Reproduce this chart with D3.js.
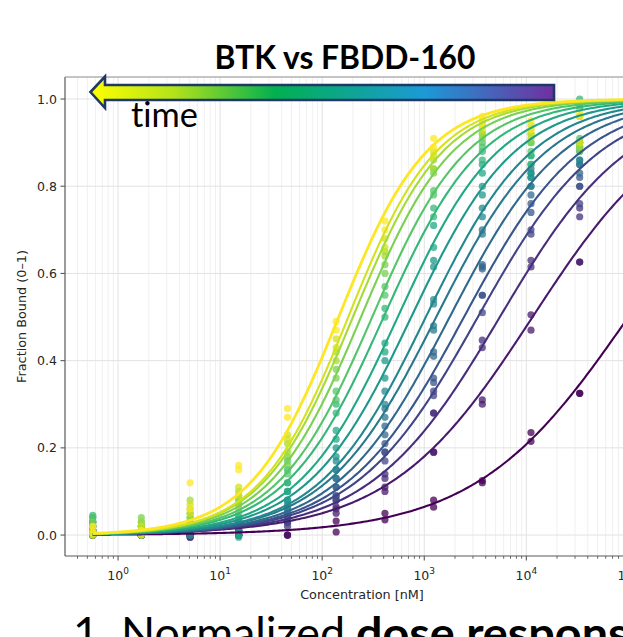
<!DOCTYPE html>
<html>
<head>
<meta charset="utf-8">
<script src="https://cdn.jsdelivr.net/npm/d3@7"></script>
<style>
  html, body { margin: 0; padding: 0; background: #fff; }
  svg { display: block; }
  text { font-variant-ligatures: none; font-feature-settings: "liga" 0, "clig" 0; }
</style>
</head>
<body>
<svg id="chart" width="623" height="637"></svg>
<script>
// ---------------- data ----------------
const concentrations = [0.565, 1.69, 5.08, 15.2, 45.7, 137, 412, 1235, 3704, 11111, 33333]; // nM
// fitted curves, latest time point (yellow) first, earliest (purple) last
const ec50 = [145, 180, 200, 240, 309, 400, 550, 745, 1035, 1310, 1775, 2450, 3350, 5500, 11500, 100000];
const hillSlope = [1.0, 1.0, 0.98, 0.96, 0.93, 0.9, 0.88, 0.85, 0.83, 0.8, 0.78, 0.75, 0.72, 0.68, 0.62, 0.58];
const replicateA = [
  [0.02, 0.0, 0.12, 0.16, 0.29, 0.49, 0.72, 0.91, 0.96, 0.95, 0.97],
  [0.01, 0.02, 0.07, 0.11, 0.23, 0.45, 0.68, 0.88, 0.95, 0.94, 0.96],
  [0.02, 0.03, 0.08, 0.10, 0.21, 0.42, 0.65, 0.86, 0.94, 0.93, 0.90],
  [0.03, 0.04, 0.06, 0.09, 0.18, 0.38, 0.62, 0.84, 0.92, 0.92, 0.90],
  [0.04, 0.03, 0.05, 0.08, 0.17, 0.33, 0.57, 0.79, 0.90, 0.90, 0.91],
  [0.045, 0.02, 0.04, 0.07, 0.15, 0.30, 0.52, 0.75, 0.88, 0.87, 0.99],
  [0.04, 0.02, 0.03, 0.0, 0.12, 0.24, 0.44, 0.71, 0.85, 0.87, 0.98],
  [0.03, 0.01, 0.02, 0.04, 0.10, 0.20, 0.40, 0.63, 0.80, 0.83, 0.90],
  [0.03, 0.01, 0.02, 0.03, 0.08, 0.17, 0.33, 0.54, 0.75, 0.83, 0.88],
  [0.02, 0.01, 0.02, 0.03, 0.07, 0.15, 0.29, 0.48, 0.70, 0.84, 0.86],
  [0.02, 0.01, 0.01, 0.02, 0.06, 0.13, 0.25, 0.42, 0.62, 0.80, 0.85],
  [0.01, 0.01, 0.01, 0.02, 0.05, 0.11, 0.21, 0.36, 0.615, 0.76, 0.82],
  [0.01, 0.0, 0.01, 0.01, 0.04, 0.09, 0.19, 0.33, 0.55, 0.70, 0.80],
  [0.01, 0.0, 0.0, 0.01, 0.03, 0.08, 0.14, 0.28, 0.447, 0.63, 0.73],
  [0.0, 0.0, 0.0, 0.0, 0.03, 0.065, 0.11, 0.19, 0.31, 0.505, 0.626],
  [0.0, 0.0, 0.0, 0.0, 0.0, 0.032, 0.05, 0.08, 0.12, 0.235, 0.325]
];
const replicateB = [
  [0.005, 0.01, 0.06, 0.15, 0.27, 0.47, 0.70, 0.89, 0.94, 0.93, 0.96],
  [0.0, 0.005, 0.05, 0.09, 0.22, 0.43, 0.66, 0.87, 0.93, 0.92, 0.90],
  [0.0, 0.01, 0.04, 0.07, 0.19, 0.40, 0.64, 0.84, 0.92, 0.91, 0.89],
  [0.01, 0.02, 0.03, 0.06, 0.16, 0.36, 0.60, 0.83, 0.91, 0.90, 0.88],
  [0.02, 0.01, 0.03, 0.05, 0.14, 0.31, 0.55, 0.78, 0.89, 0.88, 0.89],
  [0.03, 0.0, 0.02, 0.04, 0.12, 0.28, 0.50, 0.73, 0.86, 0.85, 1.0],
  [0.02, 0.01, 0.01, -0.005, 0.10, 0.22, 0.42, 0.66, 0.83, 0.85, 0.96],
  [0.01, 0.0, 0.01, 0.02, 0.08, 0.18, 0.36, 0.615, 0.78, 0.82, 0.89],
  [0.01, 0.0, 0.0, 0.01, 0.06, 0.15, 0.30, 0.53, 0.73, 0.80, 0.86],
  [0.0, 0.0, 0.0, 0.01, 0.05, 0.13, 0.27, 0.47, 0.69, 0.82, 0.85],
  [0.0, 0.0, 0.0, 0.01, 0.04, 0.11, 0.23, 0.41, 0.61, 0.78, 0.83],
  [0.0, 0.0, 0.0, 0.01, 0.03, 0.09, 0.19, 0.35, 0.55, 0.74, 0.80],
  [0.0, 0.0, 0.0, 0.0, 0.03, 0.08, 0.17, 0.32, 0.51, 0.69, 0.76],
  [0.0, 0.0, -0.005, 0.0, 0.02, 0.06, 0.13, 0.28, 0.43, 0.615, 0.75],
  [0.0, 0.0, -0.005, 0.0, 0.0, 0.05, 0.10, 0.19, 0.30, 0.47, 0.626],
  [0.0, 0.0, 0.0, 0.0, 0.0, 0.007, 0.035, 0.064, 0.125, 0.215, 0.325]
];
const yTicks = [0.0, 0.2, 0.4, 0.6, 0.8, 1.0];
const xTickExponents = [0, 1, 2, 3, 4, 5];
const titleText = "BTK vs FBDD-160";
const arrowLabel = "time";
const xLabel = "Concentration [nM]";
const yLabel = "Fraction Bound (0\u20131)";
const captionNormal = "1. Normalized";
const captionBold = "dose responses";

// ---------------- layout ----------------
const svg = d3.select("#chart");
const plot = { left: 65, top: 77, bottom: 556, right: 659 };
const x = d3.scaleLog().domain([Math.pow(10, -0.52), Math.pow(10, 5.3)]).range([plot.left, plot.right]);
const y = d3.scaleLinear().domain([-0.048, 1.0505]).range([plot.bottom, plot.top]);
const nSeries = ec50.length;
const color = i => d3.interpolateViridis(1 - i / (nSeries - 1));
const font = "'DejaVu Sans', sans-serif";
const titleFont = "Lato, 'Open Sans', sans-serif";

svg.append("rect").attr("width", 623).attr("height", 637).attr("fill", "#fff");

svg.append("defs").append("clipPath").attr("id", "plotclip")
  .append("rect").attr("x", plot.left).attr("y", plot.top)
  .attr("width", plot.right - plot.left).attr("height", plot.bottom - plot.top);

// grid
const grid = svg.append("g");
const minorTicks = [];
for (let e = -1; e <= 5; e++) for (let m = 2; m <= 9; m++) {
  const v = m * Math.pow(10, e);
  if (v > x.domain()[0] && v < x.domain()[1]) minorTicks.push(v);
}
grid.selectAll("line.minor").data(minorTicks).join("line")
  .attr("x1", d => x(d)).attr("x2", d => x(d))
  .attr("y1", plot.top).attr("y2", plot.bottom)
  .attr("stroke", "#ececec").attr("stroke-width", 0.8);
grid.selectAll("line.major").data(xTickExponents.map(e => Math.pow(10, e))).join("line")
  .attr("x1", d => x(d)).attr("x2", d => x(d))
  .attr("y1", plot.top).attr("y2", plot.bottom)
  .attr("stroke", "#e2e2e2").attr("stroke-width", 1);
grid.selectAll("line.h").data(yTicks).join("line")
  .attr("x1", plot.left).attr("x2", plot.right)
  .attr("y1", d => y(d)).attr("y2", d => y(d))
  .attr("stroke", "#e2e2e2").attr("stroke-width", 1);

// curves and points
const body = svg.append("g").attr("clip-path", "url(#plotclip)");
const samples = d3.range(0, 301).map(k => Math.pow(10, Math.log10(concentrations[0]) + k * (5.4 - Math.log10(concentrations[0])) / 300));
const line = d3.line().x(d => x(d[0])).y(d => y(d[1]));
const order = d3.range(nSeries).reverse(); // purple first, yellow on top
order.forEach(i => {
  const pts = [];
  concentrations.forEach((c, j) => {
    pts.push([c, replicateA[i][j]]);
    pts.push([c, replicateB[i][j]]);
  });
  body.append("g").selectAll("circle").data(pts).join("circle")
    .attr("cx", d => x(d[0])).attr("cy", d => y(d[1])).attr("r", 3.6)
    .attr("fill", color(i)).attr("fill-opacity", 0.75);
});
order.forEach(i => {
  const fit = samples.map(c => [c, 1 / (1 + Math.pow(ec50[i] / c, hillSlope[i]))]);
  body.append("path").datum(fit).attr("d", line)
    .attr("fill", "none").attr("stroke", color(i))
    .attr("stroke-width", i === 0 ? 2.8 : 2.1);
});

// spines
const spine = "#595959";
svg.append("line").attr("x1", plot.left).attr("x2", plot.left).attr("y1", plot.top).attr("y2", plot.bottom).attr("stroke", spine).attr("stroke-width", 1.2);
svg.append("line").attr("x1", plot.left).attr("x2", plot.right).attr("y1", plot.bottom).attr("y2", plot.bottom).attr("stroke", spine).attr("stroke-width", 1.2);
svg.append("line").attr("x1", plot.left).attr("x2", plot.right).attr("y1", plot.top).attr("y2", plot.top).attr("stroke", "#8a8a8a").attr("stroke-width", 1);

// y axis ticks
const yAxisG = svg.append("g");
yAxisG.selectAll("line").data(yTicks).join("line")
  .attr("x1", plot.left - 4.5).attr("x2", plot.left).attr("y1", d => y(d)).attr("y2", d => y(d))
  .attr("stroke", spine).attr("stroke-width", 1.1);
yAxisG.selectAll("text").data(yTicks).join("text")
  .attr("x", plot.left - 8).attr("y", d => y(d)).attr("dy", "0.36em")
  .attr("text-anchor", "end").attr("font-family", font).attr("font-size", 12.5).attr("fill", "#262626")
  .text(d => d.toFixed(1));

// x axis ticks
const xAxisG = svg.append("g");
xAxisG.selectAll("line.mi").data(minorTicks).join("line")
  .attr("x1", d => x(d)).attr("x2", d => x(d)).attr("y1", plot.bottom).attr("y2", plot.bottom + 2.8)
  .attr("stroke", spine).attr("stroke-width", 0.9);
xAxisG.selectAll("line.ma").data(xTickExponents).join("line")
  .attr("x1", d => x(Math.pow(10, d))).attr("x2", d => x(Math.pow(10, d)))
  .attr("y1", plot.bottom).attr("y2", plot.bottom + 4.5)
  .attr("stroke", spine).attr("stroke-width", 1.1);
const xl = xAxisG.selectAll("text").data(xTickExponents).join("text")
  .attr("x", d => x(Math.pow(10, d))).attr("y", 580)
  .attr("text-anchor", "middle").attr("font-family", font).attr("font-size", 12.5).attr("fill", "#262626");
xl.append("tspan").text("10");
xl.append("tspan").attr("dy", -6).attr("font-size", 9).text(d => d);

// axis labels
svg.append("text").attr("x", (plot.left + plot.right) / 2).attr("y", 599)
  .attr("text-anchor", "middle").attr("font-family", font).attr("font-size", 12.8).attr("fill", "#262626")
  .text(xLabel);
svg.append("text").attr("transform", `translate(26,${(plot.top + plot.bottom) / 2}) rotate(-90)`)
  .attr("text-anchor", "middle").attr("font-family", font).attr("font-size", 12.8).attr("fill", "#262626")
  .text(yLabel);

// title
svg.append("text").attr("x", 345).attr("y", 69).attr("text-anchor", "middle")
  .attr("font-family", titleFont).attr("font-weight", "bold").attr("font-size", 32)
  .attr("textLength", 261).attr("lengthAdjust", "spacingAndGlyphs").attr("fill", "#000")
  .text(titleText);

// time arrow
const grad = svg.select("defs").append("linearGradient").attr("id", "timegrad")
  .attr("gradientUnits", "userSpaceOnUse").attr("x1", 90).attr("x2", 554).attr("y1", 0).attr("y2", 0);
[["0%", "#ffff00"], ["18%", "#b4e31a"], ["40%", "#00b050"], ["72%", "#1c9ad6"], ["100%", "#7030a0"]]
  .forEach(([o, c]) => grad.append("stop").attr("offset", o).attr("stop-color", c));
const arrowPts = [[90.5, 92], [105, 76.5], [105, 85], [554, 85], [554, 100], [105, 100], [105, 108], [90.5, 92]];
svg.append("path").attr("d", d3.line()(arrowPts) + "Z")
  .attr("fill", "url(#timegrad)").attr("stroke", "#1f3864").attr("stroke-width", 2.6)
  .attr("stroke-linejoin", "miter");
svg.append("text").attr("x", 131).attr("y", 127)
  .attr("font-family", titleFont).attr("font-size", 34).attr("fill", "#000")
  .attr("textLength", 67).attr("lengthAdjust", "spacingAndGlyphs")
  .text(arrowLabel);

// caption (cut at the bottom edge)
svg.append("text").attr("x", 73).attr("y", 649)
  .attr("font-family", titleFont).attr("font-size", 44).attr("fill", "#000")
  .attr("textLength", 272).attr("lengthAdjust", "spacingAndGlyphs")
  .text(captionNormal);
svg.append("text").attr("x", 356).attr("y", 649)
  .attr("font-family", titleFont).attr("font-weight", "bold").attr("font-size", 44).attr("fill", "#000")
  .attr("textLength", 318).attr("lengthAdjust", "spacingAndGlyphs")
  .text(captionBold);
</script>
</body>
</html>
